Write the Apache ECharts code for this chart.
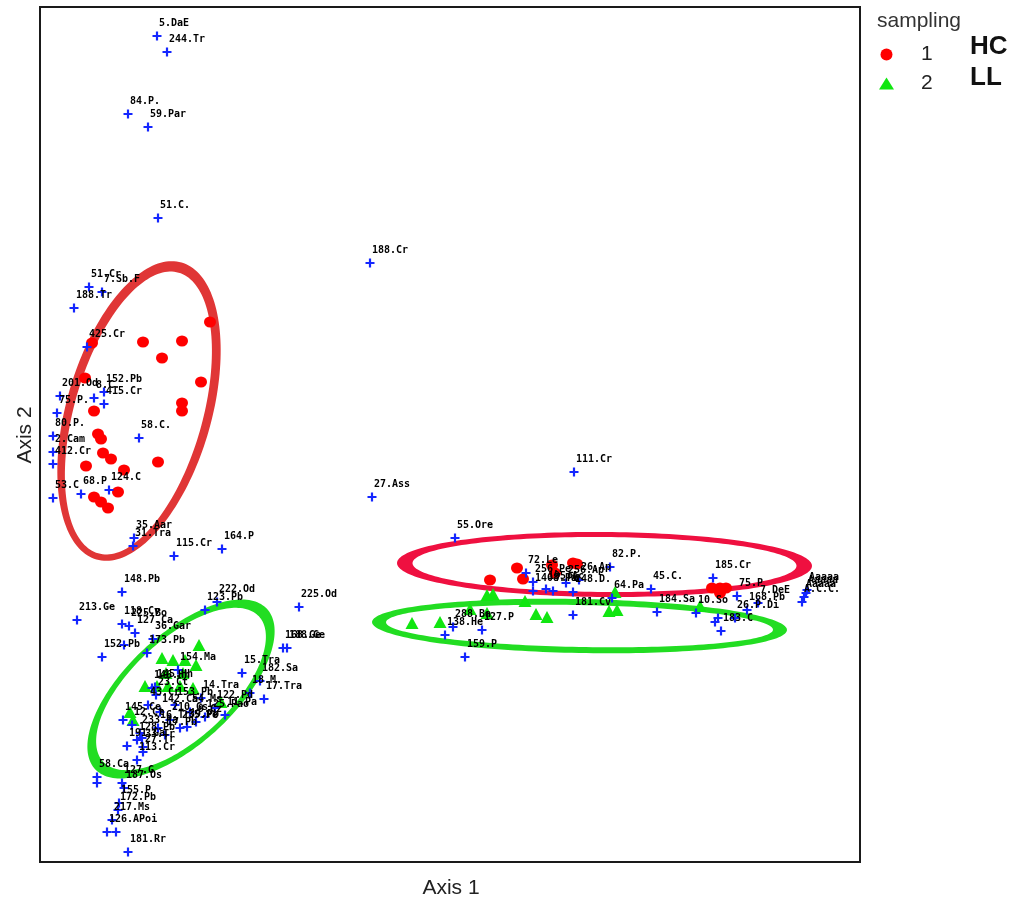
<!DOCTYPE html>
<html><head><meta charset="utf-8">
<script src="https://cdn.jsdelivr.net/npm/echarts@6/dist/echarts.min.js"></script>
<style>html,body{margin:0;padding:0;background:#fff}#c{width:1019px;height:906px}</style>
</head><body><div id="c"></div>
<script>
// ordination scores (arbitrary units)
const blueX = [117,127,88,108,118,330,332,534,49,62,34,47,20,64,64,54,17,13,99,13,13,13,41,69,94,93,134,182,82,177,165,259,37,82,89,95,113,62,107,84,243,247,202,220,210,224,138,161,115,
83,92,100,97,87,103,125,147,165,112,116,102,97,103,135,150,120,108,130,156,175,185,140,118,
57,57,84,82,79,78,72,67,76,88,
415,486,493,493,506,513,526,533,539,570,572,533,611,617,656,673,675,678,681,695,707,697,718,762,764,766,767,413,405,442,425];
const blueY = [826,810,748,735,644,599,365,390,575,570,554,515,466,470,458,464,449,426,424,410,398,364,368,372,324,316,306,313,270,260,252,255,242,238,236,229,223,205,209,217,214,214,189,181,169,163,192,164,175,
142,137,129,122,116,115,127,135,145,174,167,124,102,110,157,150,150,157,142,140,154,147,134,134,
85,79,74,79,59,52,42,30,30,10,
324,289,280,271,273,271,279,270,282,295,264,247,273,250,249,284,240,244,231,244,252,266,259,260,265,269,272,235,227,232,205];
const blueLabels = ['5.DaE','244.Tr','84.P.','59.Par','51.C.','188.Cr','27.Ass','111.Cr','51.Cr','7.Sb.F','188.Tr','425.Cr','201.Od','152.Pb','415.Cr','8.C.','75.P.','80.P.','58.C.','2.Cam','412.Cr','53.C','68.P','124.C','35.Aar','31.Tra','115.Cr','164.P','148.Pb','222.Od','123.Pb','225.Od','213.Ge','118.Cv','225.Bo','127.Ca','36.Gar','152.Pb','173.Pb','','168.Ge','188.Ge','15.Tra','182.Sa','18.M.','17.Tra','154.Ma','14.Tra','145.Hh',
'145.Ce','12.Ct','233.Pa','128.Pb','191.Ga','33.Tr','17.Pb','39.Pb','125.Pao','146.Hh','23.Ct','','113.Cr','27.Tr','153.Pb','54.Ms','142.Ca','43.Cr','210.Gs','9.Cz','122.Pd','11.Pa','235.Pe','16.Tr',
'58.Ca','','187.Os','127.G','155.P','172.Pb','217.Ms','126.APoi','','181.Rr',
'55.Ore','72.Le','256.Pe','1408.Pa','195.Ac','7.Pb','256.Ap','148.D.','26.Ap','82.P.','64.Pa','181.Cv','45.C.','184.Sa','10.So','185.Cr','','','183.C','26.P.Di','168.Pb','75.P','7.DeE','A.C.C.','Aaaaa','Aaaaa','Aaaaa','288.Ba','138.He','127.P','159.P'];

// sampling 1 (HC)
const hcX = [170,103,142,122,52,161,45,142,142,54,58,61,63,71,46,118,84,78,54,61,68, 450,477,483,512,515,533,537,672,680,686,680];
const hcY = [540,520,521,504,519,480,484,459,451,451,428,423,409,403,396,400,392,370,365,360,354, 282,294,283,297,289,299,298,274,274,274,269];
// sampling 2 (LL)
const llX = [159,122,133,145,156,126,143,105,117,128,140,153,181,90,93, 372,400,430,447,453,447,485,496,507,569,577,575,660];
const llY = [217,204,202,202,197,189,189,176,176,176,176,174,160,150,142, 239,240,253,267,268,249,261,248,245,251,252,270,256];

// dispersion ellipses: centre, semi-axes, rotation (deg)
const ellCx = [99, 141, 564.5, 539.5];
const ellCy = [451, 173, 297.5, 236];
const ellA = [150, 112, 200, 200.5];
const ellB = [68, 52, 30, 24];
const ellAngle = [74, 43, -0.4, -1.1];
const ellGroup = ['1', '2', '1', '2'];

const ringStyle = [
  {dao:4.5, dbo:4.5, dai:-4, dbi:-4, sx:-0.6, sy:-2, color:'#e03636'},
  {dao:5.5, dbo:2.5, dai:-5.5, dbi:-2.5, sx:0, sy:0, color:'#22dd22'},
  {dao:7.5, dbo:2.5, dai:-8, dbi:-2.5, sx:0, sy:0, color:'#ef1040'},
  {dao:7, dbo:3, dai:-7, dbi:-3, sx:0, sy:0, color:'#22dd22'}
];

function ellPts(cx, cy, a, b, angDeg, n) {
  const t = angDeg * Math.PI / 180, ct = Math.cos(t), st = Math.sin(t);
  const out = [];
  for (let k = 0; k <= n; k++) {
    const u = 2 * Math.PI * k / n;
    const ex = a * Math.cos(u), ey = b * Math.sin(u);
    out.push([cx + ex * ct - ey * st, cy + ex * st + ey * ct]);
  }
  return out;
}

const chart = echarts.init(document.getElementById('c'), null, {renderer: 'canvas'});
const plus = 'path://M3.4,0H5.6V3.4H9V5.6H5.6V9H3.4V5.6H0V3.4H3.4Z';
const labelFont = {fontFamily: 'DejaVu Sans Mono', fontWeight: 'bold', fontSize: 10, color: '#000'};

chart.setOption({
  animation: false,
  backgroundColor: '#fff',
  grid: {left: 40, top: 7, width: 820, height: 855, show: true, borderColor: '#1a1a1a', borderWidth: 2, backgroundColor: 'transparent'},
  xAxis: {type: 'value', min: 0, max: 820, show: false},
  yAxis: {type: 'value', min: 0, max: 855, show: false},
  legend: {
    left: 874, top: 39, orient: 'vertical', itemWidth: 15, itemHeight: 12, itemGap: 8,
    textStyle: {fontSize: 21, color: '#222', fontFamily: 'Liberation Sans', padding: [0, 0, 0, 22]},
    data: [{name: '1', icon: 'circle', itemStyle: {color: '#ff0000', opacity: 1}}, {name: '2', icon: 'triangle', itemStyle: {color: '#11e611', opacity: 1}}],
    selectedMode: false
  },
  graphic: [
    {type: 'text', x: 877, y: 21, style: {text: 'sampling', fontSize: 21, fill: '#333', fontFamily: 'Liberation Sans', verticalAlign: 'middle'}},
    {type: 'text', x: 970, y: 47, style: {text: 'HC', fontSize: 26, fontWeight: 'bold', fill: '#111', fontFamily: 'Liberation Sans', verticalAlign: 'middle'}},
    {type: 'text', x: 970, y: 78, style: {text: 'LL', fontSize: 26, fontWeight: 'bold', fill: '#111', fontFamily: 'Liberation Sans', verticalAlign: 'middle'}},
    {type: 'text', x: 451, y: 888, style: {text: 'Axis 1', fontSize: 21, fill: '#222', fontFamily: 'Liberation Sans', align: 'center', verticalAlign: 'middle'}},
    {type: 'text', x: 25, y: 435, rotation: Math.PI / 2, style: {text: 'Axis 2', fontSize: 21, fill: '#222', fontFamily: 'Liberation Sans', align: 'center', verticalAlign: 'middle'}}
  ],
  series: [
    {
      type: 'custom', name: 'ellipses', coordinateSystem: 'cartesian2d', z: 1, silent: true,
      data: ellCx.map((c, i) => [c, ellCy[i], i]),
      encode: {x: 0, y: 1},
      renderItem: function (params, api) {
        const i = params.dataIndex, s = ringStyle[i];
        const outer = ellPts(ellCx[i], ellCy[i], ellA[i] + s.dao, ellB[i] + s.dbo, ellAngle[i], 180);
        const inner = ellPts(ellCx[i] + s.sx, ellCy[i] + s.sy, ellA[i] + s.dai, ellB[i] + s.dbi, ellAngle[i], 180).reverse();
        const pts = outer.concat(inner).map(p => api.coord(p));
        return {type: 'polygon', shape: {points: pts}, style: {fill: s.color, stroke: null}};
      }
    },
    {
      type: 'scatter', name: 'species', z: 4, silent: true,
      symbol: plus, symbolSize: 9,
      itemStyle: {color: '#1426ff', opacity: 1},
      label: {show: true, formatter: '{b}', position: [6.5, -8.5], align: 'left', verticalAlign: 'middle', ...labelFont},
      data: blueX.map((x, i) => ({value: [x, blueY[i]], name: blueLabels[i]}))
    },
    {
      type: 'scatter', name: '1', z: 3, silent: true,
      symbol: 'circle', symbolSize: [12, 11],
      itemStyle: {color: '#ff0000', opacity: 1},
      data: hcX.map((x, i) => [x, hcY[i]])
    },
    {
      type: 'scatter', name: '2', z: 3, silent: true,
      symbol: 'triangle', symbolSize: [13, 12],
      itemStyle: {color: '#11e611', opacity: 1},
      data: llX.map((x, i) => [x, llY[i]])
    }
  ]
});
</script>
</body></html>
